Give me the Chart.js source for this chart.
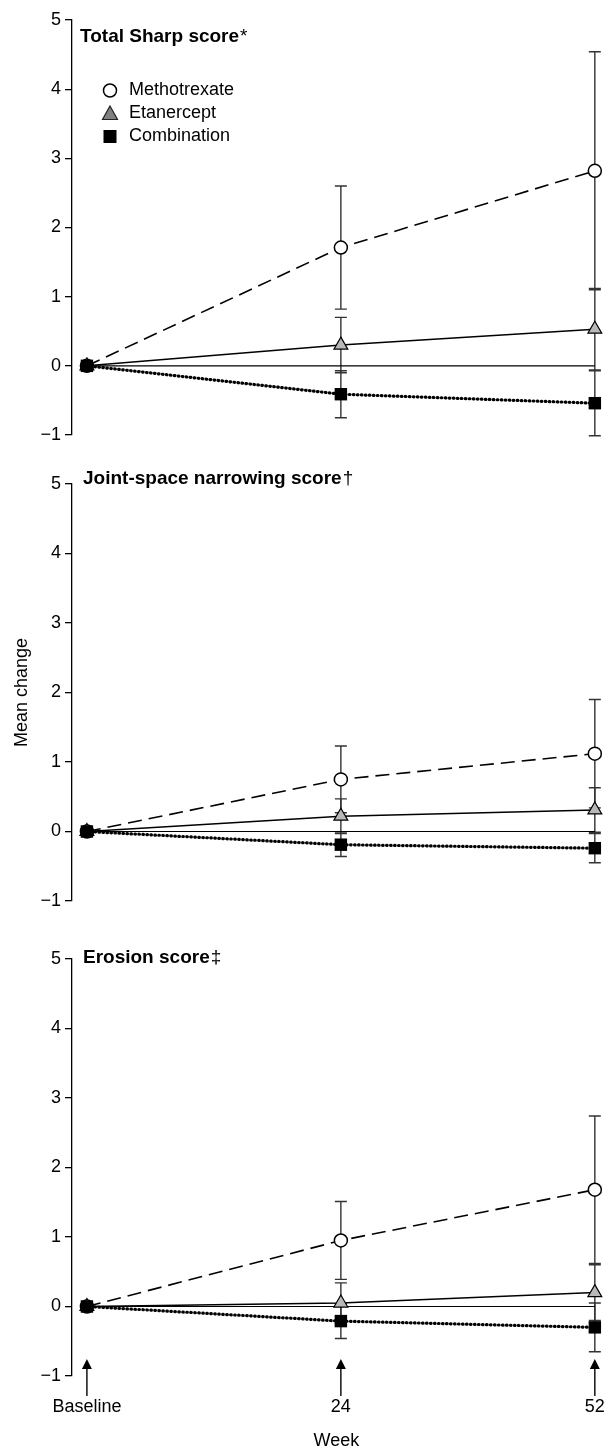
<!DOCTYPE html>
<html><head><meta charset="utf-8">
<script src="https://cdn.jsdelivr.net/npm/chart.js@4"></script>
<style>
html,body{margin:0;padding:0;background:#fff;}
#wrap{position:relative;width:610px;height:1452px;overflow:hidden;background:#fff;}
canvas{position:absolute;left:0;}
</style></head><body>
<div id="wrap">
<canvas id="c0" style="top:0px" width="610" height="460"></canvas>
<canvas id="c1" style="top:464px" width="610" height="460"></canvas>
<canvas id="c2" style="top:939px" width="610" height="513"></canvas>
</div>
<script>
// ---------- data ----------
const xPositions = [0, 1, 2];            // Baseline, week 24, week 52 (equally spaced)
const xLabels = ['Baseline', '24', '52'];
const xTitle = 'Week';
const yTickValues = [-1, 0, 1, 2, 3, 4, 5];
const yTickLabels = ['\u22121', '0', '1', '2', '3', '4', '5'];
const yTitle = 'Mean change';
const seriesNames = ['Methotrexate', 'Etanercept', 'Combination'];
const panelTitles = ['Total Sharp score', 'Joint-space narrowing score', 'Erosion score'];
const panelMarks = ['*', '\u2020', '\u2021'];

// Total Sharp score
const totalMtx = [0, 1.71, 2.82];
const totalMtxErr = [0, 0.89, 1.72];
const totalEtn = [0, 0.30, 0.53];
const totalEtnErr = [0, 0.40, 0.59];
const totalComb = [0, -0.41, -0.54];
const totalCombErr = [0, 0.34, 0.47];

// Joint-space narrowing score
const jsnMtx = [0, 0.75, 1.12];
const jsnMtxErr = [0, 0.48, 0.78];
const jsnEtn = [0, 0.22, 0.31];
const jsnEtnErr = [0, 0.25, 0.32];
const jsnComb = [0, -0.19, -0.24];
const jsnCombErr = [0, 0.17, 0.21];

// Erosion score
const eroMtx = [0, 0.95, 1.68];
const eroMtxErr = [0, 0.56, 1.06];
const eroEtn = [0, 0.05, 0.20];
const eroEtnErr = [0, 0.29, 0.40];
const eroComb = [0, -0.21, -0.30];
const eroCombErr = [0, 0.25, 0.35];

const panels = [
  {mtx: totalMtx, mtxErr: totalMtxErr, etn: totalEtn, etnErr: totalEtnErr, comb: totalComb, combErr: totalCombErr},
  {mtx: jsnMtx, mtxErr: jsnMtxErr, etn: jsnEtn, etnErr: jsnEtnErr, comb: jsnComb, combErr: jsnCombErr},
  {mtx: eroMtx, mtxErr: eroMtxErr, etn: eroEtn, etnErr: eroEtnErr, comb: eroComb, combErr: eroCombErr}
];

// ---------- style ----------
const FAM = "'Liberation Sans', Arial, Helvetica, sans-serif";
const titleDy = [16.5, -5, -1];
const titleDx = [8, 11, 11];
const padTop = [20, 20, 20];
const padBottom = [25, 23, 0];

const pts = vals => xPositions.map((x, i) => ({x: x, y: vals[i]}));

const errorBarPlugin = {
  id: 'errorBars',
  beforeDatasetsDraw(chart) {
    const ctx = chart.ctx, xs = chart.scales.x, ys = chart.scales.y;
    ctx.save();
    ctx.strokeStyle = '#333';
    ctx.lineWidth = 1.4;
    chart.data.datasets.forEach(ds => {
      if (!ds.errors) return;
      ds.data.forEach((p, i) => {
        const e = ds.errors[i];
        if (!e) return;
        const px = xs.getPixelForValue(p.x);
        const y1 = ys.getPixelForValue(p.y + e);
        const y2 = ys.getPixelForValue(p.y - e);
        ctx.beginPath();
        ctx.moveTo(px, y1); ctx.lineTo(px, y2);
        ctx.moveTo(px - 6, y1); ctx.lineTo(px + 6, y1);
        ctx.moveTo(px - 6, y2); ctx.lineTo(px + 6, y2);
        ctx.stroke();
      });
    });
    ctx.restore();
  }
};

const panelTitlePlugin = {
  id: 'panelTitle',
  afterDraw(chart, args, opts) {
    const ctx = chart.ctx, a = chart.chartArea;
    const idx = opts.index;
    ctx.save();
    ctx.fillStyle = '#000';
    ctx.textBaseline = 'middle';
    ctx.textAlign = 'left';
    const x = a.left + titleDx[idx], y = a.top + titleDy[idx];
    ctx.font = 'bold 19px ' + FAM;
    ctx.fillText(panelTitles[idx], x, y);
    const w = ctx.measureText(panelTitles[idx]).width;
    ctx.font = '19px ' + FAM;
    ctx.fillText(panelMarks[idx], x + w + 1, y);
    ctx.restore();
  }
};

const legendPlugin = {
  id: 'legendBox',
  afterDraw(chart, args, opts) {
    if (!opts.show) return;
    const ctx = chart.ctx, a = chart.chartArea;
    const sx = 110, tx = 129;
    const rows = [a.top + 70.5, a.top + 93.5, a.top + 116.5];
    ctx.save();
    ctx.beginPath();
    ctx.arc(sx, rows[0], 6.5, 0, Math.PI * 2);
    ctx.fillStyle = '#fff'; ctx.fill();
    ctx.lineWidth = 1.5; ctx.strokeStyle = '#000'; ctx.stroke();
    ctx.beginPath();
    ctx.moveTo(sx, rows[1] - 7.5);
    ctx.lineTo(sx + 7.5, rows[1] + 6);
    ctx.lineTo(sx - 7.5, rows[1] + 6);
    ctx.closePath();
    ctx.fillStyle = '#808080'; ctx.fill();
    ctx.lineWidth = 1.2; ctx.strokeStyle = '#222'; ctx.stroke();
    ctx.fillStyle = '#000';
    ctx.fillRect(sx - 6.5, rows[2] - 6.5, 13, 13);
    ctx.font = '18px ' + FAM;
    ctx.textBaseline = 'middle';
    ctx.fillStyle = '#000';
    seriesNames.forEach((n, i) => ctx.fillText(n, tx, rows[i]));
    ctx.restore();
  }
};

const arrowPlugin = {
  id: 'arrows',
  afterDraw(chart, args, opts) {
    if (!opts.show) return;
    const ctx = chart.ctx, a = chart.chartArea, xs = chart.scales.x;
    ctx.save();
    ctx.strokeStyle = '#000'; ctx.fillStyle = '#000'; ctx.lineWidth = 1.4;
    xPositions.forEach(v => {
      const px = xs.getPixelForValue(v);
      const tip = a.bottom - 17, end = a.bottom + 20;
      ctx.beginPath();
      ctx.moveTo(px, tip + 8); ctx.lineTo(px, end); ctx.stroke();
      ctx.beginPath();
      ctx.moveTo(px, tip);
      ctx.lineTo(px + 5, tip + 10);
      ctx.lineTo(px - 5, tip + 10);
      ctx.closePath(); ctx.fill();
    });
    ctx.restore();
  }
};

function makePanel(idx) {
  const p = panels[idx];
  const isLast = idx === 2;
  const font = {family: FAM, size: 18};
  return new Chart(document.getElementById('c' + idx), {
    type: 'line',
    data: {
      datasets: [
        {label: seriesNames[2], data: pts(p.comb), errors: p.combErr, order: 0,
         borderColor: '#000', borderWidth: 3.2, borderDash: [0.6, 3.4], borderCapStyle: 'round',
         pointStyle: 'rect', pointRadius: 8.8, pointBackgroundColor: '#000', pointBorderColor: '#000', pointBorderWidth: 0, clip: false},
        {label: seriesNames[1], data: pts(p.etn), errors: p.etnErr, order: 1,
         borderColor: '#000', borderWidth: 1.5,
         pointStyle: 'triangle', pointRadius: 8, pointBackgroundColor: '#b8b8b8', pointBorderColor: '#000', pointBorderWidth: 1.2, clip: false},
        {label: seriesNames[0], data: pts(p.mtx), errors: p.mtxErr, order: 2,
         borderColor: '#000', borderWidth: 1.6, borderDash: [14, 7],
         pointStyle: 'circle', pointRadius: 6.5, pointBackgroundColor: '#fff', pointBorderColor: '#000', pointBorderWidth: 1.5, clip: false},
        {label: 'zero', data: [{x: xPositions[0], y: 0}, {x: xPositions[xPositions.length - 1], y: 0}], order: 3,
         borderColor: '#000', borderWidth: 1.2, pointRadius: 0, clip: false}
      ]
    },
    options: {
      responsive: false, animation: false, devicePixelRatio: 1, events: [],
      layout: {padding: {top: padTop[idx], bottom: padBottom[idx], left: 0, right: 6}},
      scales: {
        x: {
          type: 'linear', min: -0.0587, max: 2.0235, display: isLast,
          afterBuildTicks: s => { s.ticks = xPositions.map(v => ({value: v})); },
          afterFit: s => { s.height = isLast ? 76 : 0; s.paddingLeft = 0; s.paddingRight = 0; },
          grid: {display: false, drawTicks: false},
          border: {display: false},
          ticks: {padding: 20, color: '#000', font: font, maxRotation: 0, autoSkip: false,
                  callback: (v, i) => xLabels[i]},
          title: {display: true, text: xTitle, color: '#000', font: font, padding: {top: 0, bottom: 0}}
        },
        y: {
          min: -1, max: 5,
          afterFit: s => { s.width = 72; },
          afterBuildTicks: s => { s.ticks = yTickValues.map(v => ({value: v})); },
          grid: {drawOnChartArea: false, drawTicks: true, tickLength: 7, color: '#000', lineWidth: 1.3},
          border: {display: true, color: '#000', width: 1.3},
          ticks: {padding: 4, color: '#000', font: font, callback: (v, i) => yTickLabels[i]},
          title: {display: idx === 1, text: yTitle, color: '#000', font: font, padding: {top: 11, bottom: 0}}
        }
      },
      plugins: {
        legend: {display: false},
        tooltip: {enabled: false},
        panelTitle: {index: idx},
        legendBox: {show: idx === 0},
        arrows: {show: isLast}
      }
    },
    plugins: [errorBarPlugin, panelTitlePlugin, legendPlugin, arrowPlugin]
  });
}
[0, 1, 2].forEach(makePanel);
</script>
</body></html>
